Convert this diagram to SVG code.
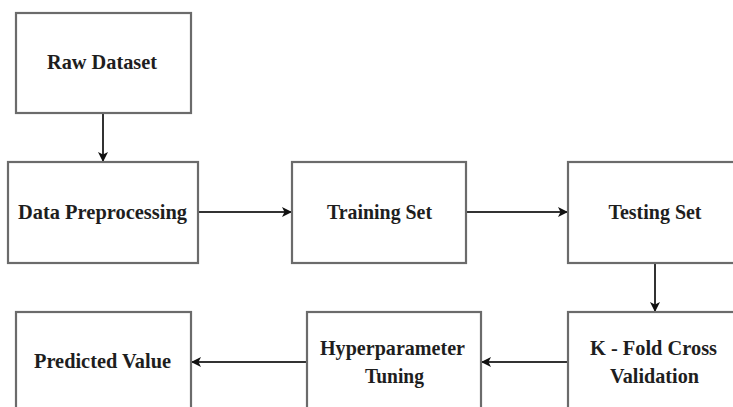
<svg xmlns="http://www.w3.org/2000/svg" width="733" height="407" viewBox="0 0 733 407">
  <defs>
    <style>
      .box { fill: #ffffff; stroke: #6b6b6b; stroke-width: 2.2; }
      .lbl { font-family: "Liberation Serif", "Times New Roman", serif; font-weight: bold; font-size: 22px; fill: #1e1e1e; text-anchor: middle; }
      .conn { stroke: #333333; stroke-width: 2; fill: none; marker-end: url(#arrow); }
    </style>
    <marker id="arrow" markerWidth="10" markerHeight="10" refX="9" refY="5" orient="auto" markerUnits="userSpaceOnUse">
      <path d="M0,0 L10,5 L0,10 L2.5,5 Z" fill="#111111"/>
    </marker>
  </defs>
  <rect width="733" height="407" fill="#ffffff"/>

  <g id="connectors">
    <line class="conn" x1="103" y1="113" x2="103" y2="161"/>
    <line class="conn" x1="198" y1="212" x2="291" y2="212"/>
    <line class="conn" x1="466" y1="212" x2="567" y2="212"/>
    <line class="conn" x1="655" y1="263" x2="655" y2="311"/>
    <line class="conn" x1="568" y1="362" x2="482" y2="362"/>
    <line class="conn" x1="307" y1="362" x2="192" y2="362"/>
  </g>

  <g id="raw-dataset">
    <rect class="box" x="16" y="13" width="175" height="100"/>
    <text class="lbl" x="102" y="69" textLength="110" lengthAdjust="spacingAndGlyphs">Raw Dataset</text>
  </g>
  <g id="data-preprocessing">
    <rect class="box" x="8" y="162" width="190" height="101"/>
    <text class="lbl" x="102.5" y="219" textLength="169" lengthAdjust="spacingAndGlyphs">Data Preprocessing</text>
  </g>
  <g id="training-set">
    <rect class="box" x="292" y="162" width="174" height="101"/>
    <text class="lbl" x="379.5" y="219" textLength="105" lengthAdjust="spacingAndGlyphs">Training Set</text>
  </g>
  <g id="testing-set">
    <rect class="box" x="568" y="162" width="175" height="101"/>
    <text class="lbl" x="655" y="219" textLength="93" lengthAdjust="spacingAndGlyphs">Testing Set</text>
  </g>
  <g id="k-fold">
    <rect class="box" x="568" y="312" width="175" height="110"/>
    <text class="lbl" x="653.5" y="355" textLength="127" lengthAdjust="spacingAndGlyphs">K - Fold Cross</text>
    <text class="lbl" x="654.5" y="383" textLength="89" lengthAdjust="spacingAndGlyphs">Validation</text>
  </g>
  <g id="hyperparameter-tuning">
    <rect class="box" x="307" y="312" width="174" height="110"/>
    <text class="lbl" x="392.5" y="355" textLength="145" lengthAdjust="spacingAndGlyphs">Hyperparameter</text>
    <text class="lbl" x="394.5" y="383" textLength="59" lengthAdjust="spacingAndGlyphs">Tuning</text>
  </g>
  <g id="predicted-value">
    <rect class="box" x="16" y="312" width="175" height="110"/>
    <text class="lbl" x="102.5" y="368" textLength="137" lengthAdjust="spacingAndGlyphs">Predicted Value</text>
  </g>
</svg>
